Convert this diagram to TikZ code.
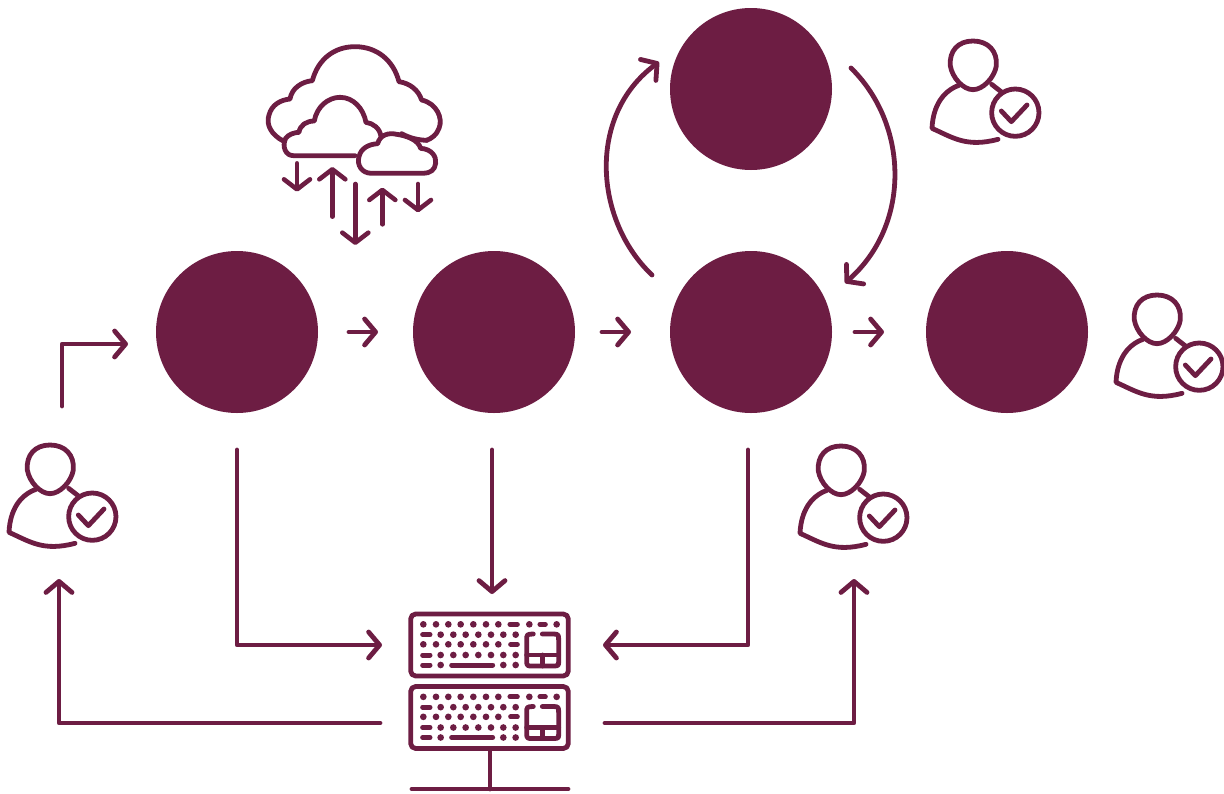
\documentclass[tikz,border=0pt]{standalone}
\usetikzlibrary{arrows.meta}
\definecolor{wine}{HTML}{6D1D43}
\tikzset{
  ln/.style={draw=wine,line width=4.8pt,line cap=round,line join=round},
  thin ln/.style={draw=wine,line width=4.6pt,line cap=round,line join=round},
  arr/.style={ln,-{Straight Barb[length=11pt,width=26pt,line width=4.8pt,round]}},
  sarr/.style={thin ln,-{Straight Barb[length=10pt,width=26pt,line width=4.6pt,round]}},
  phase/.style={circle,fill=wine,draw=none,minimum size=162pt,inner sep=0pt},
  person/.pic={
    \begin{scope}[x=0.3333pt,y=-0.3333pt]
      \draw[ln] (150,30) .. controls (195,30) and (224,60) .. (220,105)
        .. controls (214,140) and (180,176) .. (150,176)
        .. controls (120,176) and (88,140) .. (82,105)
        .. controls (78,60) and (105,30) .. (150,30) -- cycle;
      \draw[ln] (108,163) .. controls (60,180) and (30,225) .. (27,292)
        .. controls (90,320) and (130,350) .. (225,325);
      \draw[ln] (206,160) -- (238,185);
      \draw[ln] (277,245) circle (71);
      \draw[ln] (235,240) -- (265,272) -- (312,222);
    \end{scope}
  },
  keyboard/.pic={
    \begin{scope}[x=0.3333pt,y=-0.3333pt]
      \draw[ln,rounded corners=5pt] (32,42) rectangle (505,228);
      \foreach \x in {70,108,145,182,220,258,295,388,470} \fill[wine] (\x,73) circle (10);
      \foreach \x in {70,108,145,182,220,258,295} \fill[wine] (\x,133) circle (10);
      \foreach \x in {122,160,197,235,273,310,347} {\fill[wine] (\x,104) circle (10); \fill[wine] (\x,165) circle (10);}
      \foreach \x in {122,310,347} \fill[wine] (\x,195) circle (10);
      \foreach \a/\b/\y in {330/352/73,420/436/73,68/90/104,332/352/133,68/90/165,68/90/195,155/278/195}
        \draw[wine,line width=5pt,line cap=round] (\a,\y) -- (\b,\y);
      \draw[ln] (400,102) .. controls (380,102) and (380,105) .. (380,120)
        -- (380,185) .. controls (380,198) and (385,198) .. (395,198) -- (462,198)
        .. controls (476,198) and (476,195) .. (476,185) -- (476,120)
        .. controls (476,105) and (476,102) .. (460,102) -- (427,102);
      \draw[ln] (380,165) -- (476,165) (428,165) -- (428,198);
    \end{scope}
  },
}
\begin{document}
\begin{tikzpicture}[x=1pt,y=-1pt]
\useasboundingbox (0,0) rectangle (1224,793);
% phases
\node[phase] (p1) at (237,332) {};
\node[phase] (p2) at (494,332) {};
\node[phase] (p3) at (751,332) {};
\node[phase] (p4) at (1007,332) {};
\node[phase] (p5) at (751,89) {};
% icons
\pic (u1) at (0,435) {person};
\pic (u2) at (791,436) {person};
\pic (u3) at (1107,285) {person};
\pic (u4) at (923,31) {person};
\pic (k1) at (400,600) {keyboard};
\pic (k2) at (400,672.5) {keyboard};
\coordinate (st1) at (490,749);
\coordinate (st2) at (490,789);
\coordinate (bl) at (412,789);
\coordinate (br) at (568,789);
\draw[ln] (st1) -- (st2) (bl) -- (br);
% connector ends
\coordinate (a0) at (62,406); \coordinate (a0t) at (128,344);
\coordinate (a1s) at (349,332); \coordinate (a1e) at (378,332);
\coordinate (a2s) at (602,332); \coordinate (a2e) at (631,332);
\coordinate (a3s) at (855,332); \coordinate (a3e) at (884,332);
\coordinate (b1s) at (237,450); \coordinate (b1e) at (382,645);
\coordinate (b2s) at (492,450); \coordinate (b2e) at (492,594);
\coordinate (b3s) at (748,450); \coordinate (b3e) at (603,645);
\coordinate (c1s) at (380,723); \coordinate (c1e) at (59,579);
\coordinate (c2s) at (605,723); \coordinate (c2e) at (854,579);
\coordinate (l1) at (652,275); \coordinate (l2) at (659,62);
\coordinate (r1) at (851,68); \coordinate (r2) at (845,283);
\draw[arr] (a0) -- (a0 |- a0t) -- (a0t);
\draw[arr] (a1s) -- (a1e);
\draw[arr] (a2s) -- (a2e);
\draw[arr] (a3s) -- (a3e);
\draw[arr] (b1s) |- (b1e);
\draw[arr] (b2s) -- (b2e);
\draw[arr] (b3s) |- (b3e);
\draw[arr] (c1s) -| (c1e);
\draw[arr] (c2s) -| (c2e);
\draw[arr] (l1) .. controls (594,220) and (587,115) .. (l2);
\draw[arr] (r1) .. controls (909,125) and (911,225) .. (r2);
% clouds
\begin{scope}[shift={(255,35)},x=0.3333pt,y=-0.3333pt]
  \draw[ln] (85,318) .. controls (50,300) and (32,270) .. (42,240)
    .. controls (50,210) and (75,195) .. (105,192)
    .. controls (110,160) and (140,140) .. (172,137)
    .. controls (190,70) and (240,35) .. (300,35)
    .. controls (365,35) and (415,75) .. (432,140)
    .. controls (465,145) and (490,165) .. (500,195)
    .. controls (545,205) and (565,250) .. (552,280)
    .. controls (545,300) and (530,310) .. (515,316);
  \draw[ln] (515,316) .. controls (490,315) and (465,310) .. (440,296);
  \draw[ln] (300,362) -- (115,362) .. controls (92,362) and (80,335) .. (92,310)
    .. controls (100,298) and (120,292) .. (132,292)
    .. controls (135,270) and (155,258) .. (178,258)
    .. controls (185,215) and (220,187) .. (255,187)
    .. controls (295,187) and (325,220) .. (333,262)
    .. controls (355,265) and (375,280) .. (378,305);
  \draw[ln] (350,415) .. controls (320,415) and (305,390) .. (312,365)
    .. controls (318,340) and (340,328) .. (368,326)
    .. controls (375,300) and (400,292) .. (425,298)
    .. controls (455,302) and (490,315) .. (497,340)
    .. controls (530,342) and (545,365) .. (542,385)
    .. controls (540,405) and (525,415) .. (505,415) -- cycle;
  \coordinate (d1s) at (126,385); \coordinate (d1e) at (126,470);
  \coordinate (d2s) at (232,545); \coordinate (d2e) at (232,396);
  \coordinate (d3s) at (301,447); \coordinate (d3e) at (301,630);
  \coordinate (d4s) at (382,568); \coordinate (d4e) at (382,458);
  \coordinate (d5s) at (489,447); \coordinate (d5e) at (489,532);
  \draw[sarr] (d1s) -- (d1e);
  \draw[sarr] (d2s) -- (d2e);
  \draw[sarr] (d3s) -- (d3e);
  \draw[sarr] (d4s) -- (d4e);
  \draw[sarr] (d5s) -- (d5e);
\end{scope}
\end{tikzpicture}
\end{document}
